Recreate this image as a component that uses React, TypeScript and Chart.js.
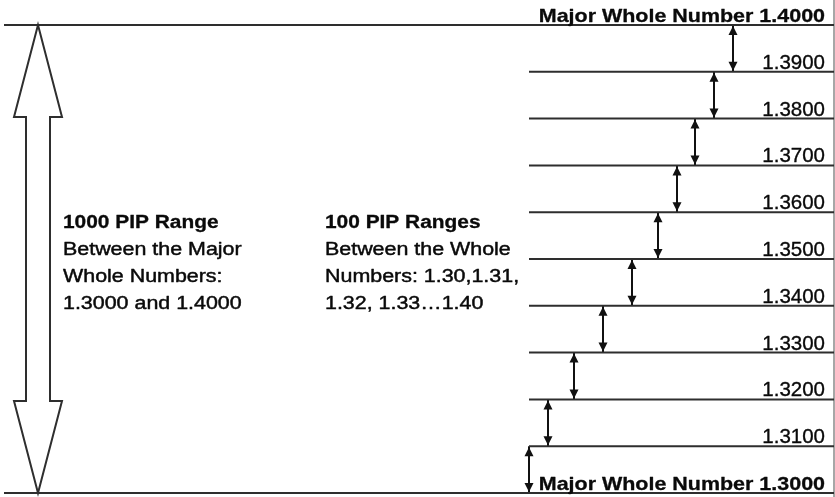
import React, { useEffect, useRef } from "react";
import { Chart, registerables } from "chart.js";

Chart.register(...registerables);

// ---- data ----
const levels = [1.3, 1.31, 1.32, 1.33, 1.34, 1.35, 1.36, 1.37, 1.38, 1.39, 1.4];
const levelLabels = [
  "Major Whole Number 1.3000",
  "1.3100",
  "1.3200",
  "1.3300",
  "1.3400",
  "1.3500",
  "1.3600",
  "1.3700",
  "1.3800",
  "1.3900",
  "Major Whole Number 1.4000",
];
const majorLevels = [1.3, 1.4];
// x position (horizontal units 0..835) of each small double arrow, between levels[i] and levels[i+1]
const arrowX = [529, 548, 574, 603, 632, 658, 677, 695, 714, 733];
const bigArrowX = 38;
const lineStartMajor = 4;
const lineStartMinor = 529;
const lineEnd = 834;
const leftNote = ["1000 PIP Range", "Between the Major", "Whole Numbers:", "1.3000 and 1.4000"];
const midNote = ["100 PIP Ranges", "Between the Whole", "Numbers: 1.30,1.31,", "1.32, 1.33\u20261.40"];
const leftNoteX = 63;
const midNoteX = 325;
const labelRightX = 825;

const Y_MIN = 1.3 - 4 / 4680;
const Y_MAX = 1.4 + 25 / 4680;

const FONT = '"Liberation Sans", Arial, sans-serif';

function drawStretchedText(
  ctx: CanvasRenderingContext2D,
  text: string,
  x: number,
  y: number,
  font: string,
  sx: number,
  align: CanvasTextAlign,
  thicken: number
) {
  ctx.save();
  ctx.translate(x, y);
  ctx.scale(sx, 1);
  ctx.font = font;
  ctx.textAlign = align;
  ctx.textBaseline = "alphabetic";
  ctx.fillStyle = "#0a0a0a";
  ctx.fillText(text, 0, 0);
  if (thicken > 0) {
    ctx.strokeStyle = "#0a0a0a";
    ctx.lineWidth = thicken;
    ctx.lineJoin = "round";
    ctx.strokeText(text, 0, 0);
  }
  ctx.restore();
}

const diagramPlugin = {
  id: "pipDiagram",
  afterDatasetsDraw(chart: any) {
    const ctx: CanvasRenderingContext2D = chart.ctx;
    const xs = chart.scales.x;
    const ys = chart.scales.y;
    ctx.save();

    // big hollow double arrow
    const cx = xs.getPixelForValue(bigArrowX);
    const top = ys.getPixelForValue(levels[levels.length - 1]);
    const bot = ys.getPixelForValue(levels[0]);
    const headLen = 92;
    const headHalf = 24;
    const shaftHalf = 12;
    ctx.beginPath();
    ctx.moveTo(cx, top);
    ctx.lineTo(cx + headHalf, top + headLen);
    ctx.lineTo(cx + shaftHalf, top + headLen);
    ctx.lineTo(cx + shaftHalf, bot - headLen);
    ctx.lineTo(cx + headHalf, bot - headLen);
    ctx.lineTo(cx, bot);
    ctx.lineTo(cx - headHalf, bot - headLen);
    ctx.lineTo(cx - shaftHalf, bot - headLen);
    ctx.lineTo(cx - shaftHalf, top + headLen);
    ctx.lineTo(cx - headHalf, top + headLen);
    ctx.closePath();
    ctx.fillStyle = "#ffffff";
    ctx.fill();
    ctx.strokeStyle = "#2e2e2e";
    ctx.lineWidth = 2;
    ctx.lineJoin = "miter";
    ctx.stroke();

    // small arrowheads
    ctx.fillStyle = "#111111";
    for (let i = 0; i < arrowX.length; i++) {
      const ax = xs.getPixelForValue(arrowX[i]);
      const yLow = ys.getPixelForValue(levels[i]);
      const yHigh = ys.getPixelForValue(levels[i + 1]);
      const hl = 9;
      const hw = 4.5;
      ctx.beginPath();
      ctx.moveTo(ax, yHigh + 1);
      ctx.lineTo(ax - hw, yHigh + 1 + hl);
      ctx.lineTo(ax + hw, yHigh + 1 + hl);
      ctx.closePath();
      ctx.fill();
      ctx.beginPath();
      ctx.moveTo(ax, yLow - 1);
      ctx.lineTo(ax - hw, yLow - 1 - hl);
      ctx.lineTo(ax + hw, yLow - 1 - hl);
      ctx.closePath();
      ctx.fill();
    }

    // level labels
    const rx = xs.getPixelForValue(labelRightX);
    levels.forEach((lv, i) => {
      const py = ys.getPixelForValue(lv) - 3;
      if (majorLevels.includes(lv)) {
        drawStretchedText(ctx, levelLabels[i], rx, py, `bold 18.5px ${FONT}`, 1.16, "right", 0.3);
      } else {
        drawStretchedText(ctx, levelLabels[i], rx, py, `20.5px ${FONT}`, 1.0, "right", 0.35);
      }
    });

    // notes
    const mid = ys.getPixelForValue(levels[5]);
    const base0 = mid - 31;
    const lh = 27;
    const notes: [string[], number][] = [
      [leftNote, leftNoteX],
      [midNote, midNoteX],
    ];
    notes.forEach(([lines, nx]) => {
      const px = xs.getPixelForValue(nx);
      lines.forEach((t, j) => {
        const f = j === 0 ? `bold 18px ${FONT}` : `18px ${FONT}`;
        drawStretchedText(ctx, t, px, base0 + j * lh, f, j === 0 ? 1.16 : 1.19, "left", j === 0 ? 0.3 : 0.45);
      });
    });

    ctx.restore();
  },
};

export default function App() {
  const canvasRef = useRef<HTMLCanvasElement | null>(null);

  useEffect(() => {
    const canvas = canvasRef.current;
    if (!canvas) return;

    const datasets: any[] = [];
    levels.forEach((lv) => {
      const start = majorLevels.includes(lv) ? lineStartMajor : lineStartMinor;
      datasets.push({
        data: [
          { x: start, y: lv },
          { x: lineEnd, y: lv },
        ],
        borderColor: "#2e2e2e",
        borderWidth: 2,
        pointRadius: 0,
        showLine: true,
      });
    });
    datasets.push({
      data: [
        { x: lineEnd, y: Y_MIN },
        { x: lineEnd, y: Y_MAX },
      ],
      borderColor: "#8a8a8a",
      borderWidth: 1.5,
      pointRadius: 0,
      showLine: true,
    });
    arrowX.forEach((ax, i) => {
      datasets.push({
        data: [
          { x: ax, y: levels[i] },
          { x: ax, y: levels[i + 1] },
        ],
        borderColor: "#111111",
        borderWidth: 2,
        pointRadius: 0,
        showLine: true,
      });
    });

    const chart = new Chart(canvas, {
      type: "scatter",
      data: { datasets },
      options: {
        animation: false,
        responsive: false,
        devicePixelRatio: 1,
        layout: { padding: 0 },
        plugins: { legend: { display: false }, tooltip: { enabled: false } },
        scales: {
          x: { type: "linear", min: 0, max: 835, display: false },
          y: { type: "linear", min: Y_MIN, max: Y_MAX, display: false },
        },
        elements: { line: { tension: 0, borderCapStyle: "butt" } },
      },
      plugins: [diagramPlugin],
    });

    return () => chart.destroy();
  }, []);

  return (
    <div style={{ position: "fixed", left: 0, top: 0, width: 835, height: 497, background: "#ffffff" }}>
      <canvas ref={canvasRef} width={835} height={497} style={{ display: "block" }} />
    </div>
  );
}
